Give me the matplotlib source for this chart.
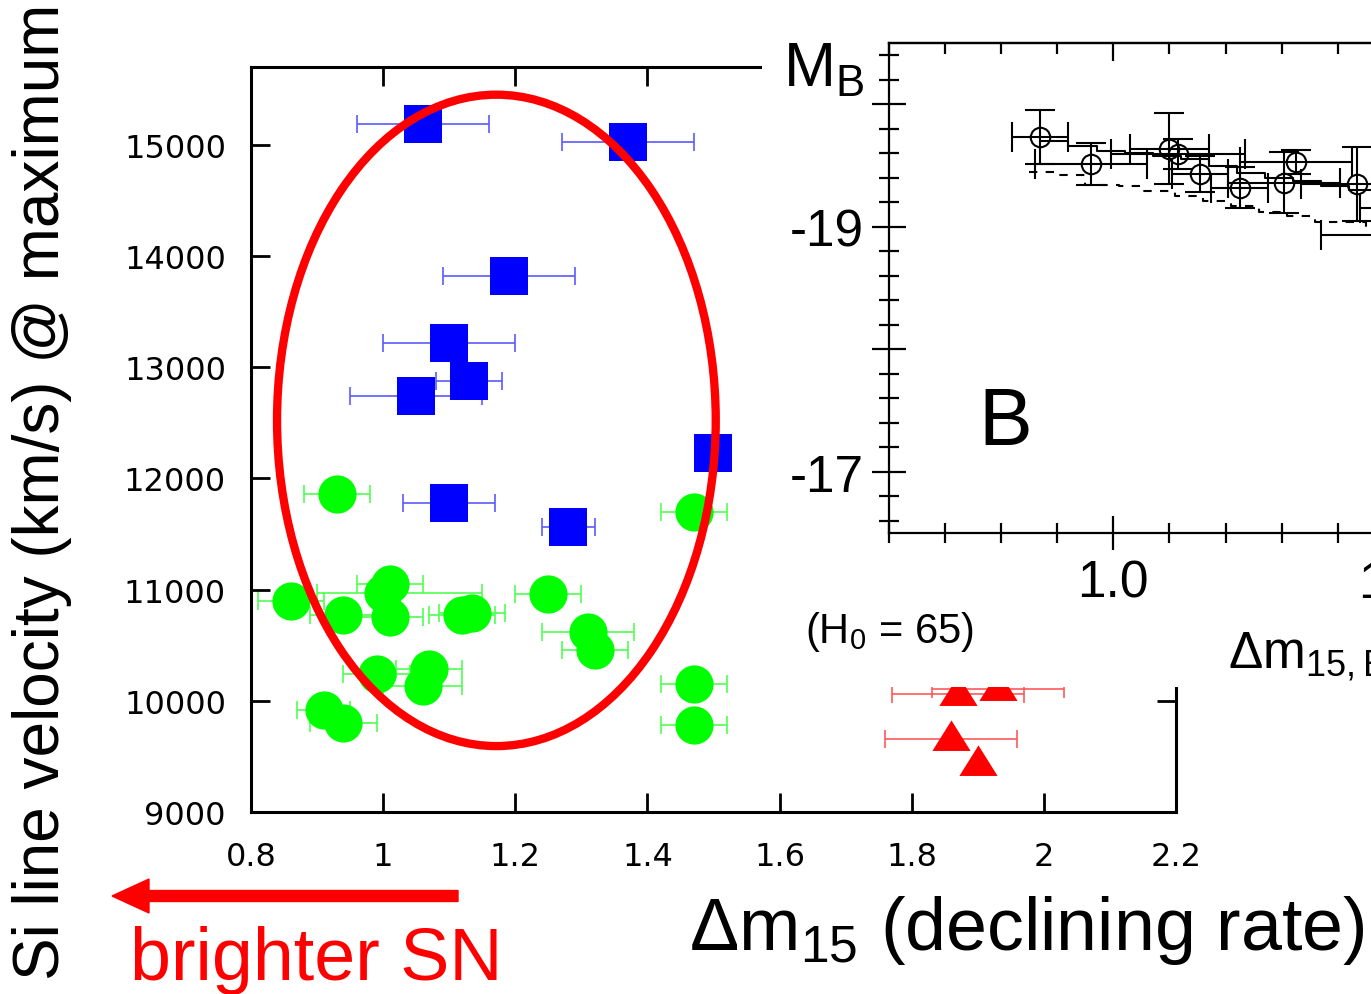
import matplotlib
matplotlib.use("Agg")
import matplotlib.pyplot as plt
from matplotlib.patches import Ellipse, Rectangle, FancyArrow
from matplotlib.ticker import MultipleLocator, FixedLocator, FuncFormatter

plt.rcParams['font.family'] = ['Liberation Sans', 'DejaVu Sans']
plt.rcParams['mathtext.fontset'] = 'custom'
plt.rcParams['mathtext.rm'] = 'Liberation Sans'

# main panel: Si velocity vs decline rate
blue_x = [1.06, 1.37, 1.19, 1.10, 1.13, 1.05, 1.50, 1.10, 1.28]
blue_y = [15190, 15030, 13820, 13220, 12880, 12740, 12230, 11780, 11560]
blue_xerr = [0.10, 0.10, 0.10, 0.10, 0.05, 0.10, 0.0, 0.07, 0.04]

green_x = [0.93, 1.47, 0.86, 1.01, 1.00, 0.94, 1.01, 1.12, 1.135, 1.25,
           1.31, 1.32, 0.99, 1.07, 1.06, 1.47, 0.91, 0.94, 1.47]
green_y = [11860, 11700, 10900, 11050, 10970, 10770, 10750, 10770, 10790, 10960,
           10620, 10460, 10240, 10290, 10130, 10150, 9920, 9800, 9780]
green_xerr_lo = [0.05, 0.05, 0.05, 0.05, 0.10, 0.05, 0.05, 0.05, 0.05, 0.05,
                 0.07, 0.05, 0.05, 0.05, 0.06, 0.05, 0.04, 0.05, 0.05]
green_xerr_hi = [0.05, 0.05, 0.05, 0.05, 0.15, 0.05, 0.05, 0.05, 0.05, 0.05,
                 0.07, 0.05, 0.05, 0.05, 0.06, 0.05, 0.04, 0.05, 0.05]

red_x = [1.87, 1.93, 1.86, 1.90]
red_y = [10060, 10110, 9660, 9430]
red_xerr = [0.10, 0.10, 0.10, 0.0]

x_ticks = [0.8, 1.0, 1.2, 1.4, 1.6, 1.8, 2.0, 2.2]
y_ticks = [9000, 10000, 11000, 12000, 13000, 14000, 15000]

# inset panel: M_B vs decline rate
ins_x = [0.87, 0.96, 1.10, 1.115, 1.155, 1.225, 1.305, 1.325, 1.435, 1.49, 1.52]
ins_y = [-19.73, -19.51, -19.635, -19.595, -19.43, -19.32, -19.36, -19.53, -19.35, -19.15, -18.93]
ins_xerr = [0.05, 0.10, 0.07, 0.12, 0.05, 0.05, 0.10, 0.10, 0.10, 0.05, 0.15]
ins_yerr = [0.22, 0.17, 0.29, 0.12, 0.15, 0.17, 0.25, 0.10, 0.30, 0.20, 0.10]

solid_x = [0.87, 0.92, 0.97, 1.02, 1.07, 1.12, 1.17, 1.22, 1.27, 1.32, 1.37, 1.42, 1.47, 1.52]
solid_y = [-19.70, -19.66, -19.62, -19.60, -19.58, -19.55, -19.50, -19.44, -19.40,
           -19.37, -19.33, -19.30, -19.27, -19.24]
dash_x = [0.85, 0.90, 0.95, 1.01, 1.05, 1.11, 1.16, 1.21, 1.26, 1.31, 1.36, 1.45, 1.55]
dash_y = [-19.45, -19.42, -19.34, -19.33, -19.29, -19.25, -19.21, -19.17, -19.12,
          -19.09, -19.04, -19.01, -18.97]

W, H = 1371, 995
fig = plt.figure(figsize=(W / 100, H / 100), dpi=100)

ax = fig.add_axes([251 / W, (H - 813) / H, 925 / W, 745 / H])
ax.set_xlim(0.8, 2.2)
ax.set_ylim(9000, 15700)
ax.set_xticks(x_ticks)
ax.set_yticks(y_ticks)
ax.xaxis.set_major_formatter(FuncFormatter(lambda v, p: f'{v:g}'))
ax.tick_params(direction='in', top=True, right=True, length=14, width=2,
               labelsize=23, labelfontfamily='DejaVu Sans')
ax.tick_params(axis='y', pad=18)
ax.tick_params(axis='x', pad=21)
for s in ax.spines.values():
    s.set_linewidth(2.2)

ms = 27.5
ebkw = dict(fmt='none', elinewidth=1.2, capsize=6.5, capthick=1.2)
ax.errorbar(blue_x, blue_y, xerr=blue_xerr, ecolor='#5a5aff', **ebkw)
ax.errorbar(green_x, green_y, xerr=[green_xerr_lo, green_xerr_hi], ecolor='#50ff50', **ebkw)
ax.errorbar(red_x, red_y, xerr=red_xerr, ecolor='#ff5a5a', **ebkw)

tri = [(0, 1.0), (-1, -0.6), (1, -0.6)]
ax.plot(blue_x, blue_y, 's', color='#0000ff', ms=ms, mew=0, zorder=3)
ax.plot(green_x, green_y, 'o', color='#00ff00', ms=ms, mew=0, zorder=3)
ax.plot(red_x, red_y, marker=tri, ls='none', color='#ff0000', ms=ms, mew=0, zorder=3)

ax.add_patch(Ellipse((1.1714, 12522), 0.664, 5858, fill=False,
                     edgecolor='#ff0000', lw=6, zorder=4))

# white block that carries the inset figure
fig.add_artist(Rectangle((762 / W, (H - 688) / H), 1 - 762 / W, 688 / H,
                         transform=fig.transFigure, facecolor='white',
                         edgecolor='none', zorder=1))

ins = fig.add_axes([889 / W, (H - 534) / H, 673 / W, 490 / H], zorder=2)
ins.set_xlim(0.6, 1.8)
ins.set_ylim(-16.5, -20.5)
ins.xaxis.set_major_locator(FixedLocator([1.0, 1.5]))
ins.xaxis.set_minor_locator(MultipleLocator(0.1))
ins.yaxis.set_major_locator(MultipleLocator(1))
ins.yaxis.set_minor_locator(MultipleLocator(0.2))
ins.xaxis.set_major_formatter(FuncFormatter(lambda v, p: f'{v:.1f}'))
ins.yaxis.set_major_formatter(
    FuncFormatter(lambda v, p: f'{v:.0f}' if round(v) % 2 == 1 else ''))
ins.tick_params(which='major', direction='inout', length=24, width=1.6, labelsize=37)
ins.tick_params(which='minor', direction='inout', length=14, width=1.6)
ins.tick_params(axis='y', pad=6)
ins.tick_params(axis='x', pad=6)
for s in ins.spines.values():
    s.set_linewidth(1.6)
top = ins.secondary_xaxis('top')
top.xaxis.set_major_locator(FixedLocator([1.0, 1.5]))
top.xaxis.set_minor_locator(MultipleLocator(0.1))
top.tick_params(which='major', direction='in', length=13, width=1.6, labeltop=False)
top.tick_params(which='minor', direction='in', length=8, width=1.6)
top.spines['top'].set_linewidth(1.6)

ins.plot(solid_x, solid_y, color='black', lw=1.5, drawstyle='steps-post')
ins.plot(dash_x, dash_y, color='black', lw=1.5, ls=(0, (4, 4)), drawstyle='steps-post')
ins.errorbar(ins_x, ins_y, xerr=ins_xerr, yerr=ins_yerr, fmt='o', mfc='none',
             mec='black', ms=14, mew=1.5, ecolor='black', elinewidth=1.5,
             capsize=11, capthick=1.5)
ins.text(0.76, -17.23, 'B', fontsize=58, ha='left', va='baseline')

fig.text(783 / W, (H - 87) / H, r'M$_\mathregular{B}$', fontsize=45,
         va='baseline', zorder=3)
fig.text(805 / W, (H - 643) / H, r'(H$_\mathregular{0}$ = 65)', fontsize=30,
         va='baseline', zorder=3)
fig.text(1228 / W, (H - 668) / H, r'$\Delta$m$_\mathregular{15,B}$', fontsize=37,
         va='baseline', zorder=3)

# axis labels
fig.text(42 / W, (H - 492) / H, 'Si line velocity (km/s) @ maximum',
         rotation=90, ha='center', va='center', fontsize=46)
fig.text(1365 / W, (H - 950) / H, r'$\Delta$m$_\mathregular{15}$ (declining rate)',
         ha='right', va='baseline', fontsize=53)

# brighter arrow
fig.add_artist(FancyArrow(4.58, (H - 897) / 100, -3.46, 0, width=0.11,
                          head_width=0.34, head_length=0.37,
                          length_includes_head=True, color='#ff0000',
                          transform=fig.dpi_scale_trans))
fig.text(130 / W, (H - 980) / H, 'brighter SN', color='#ff0000',
         fontsize=53, va='baseline')

fig.savefig('out.png', dpi=100)
